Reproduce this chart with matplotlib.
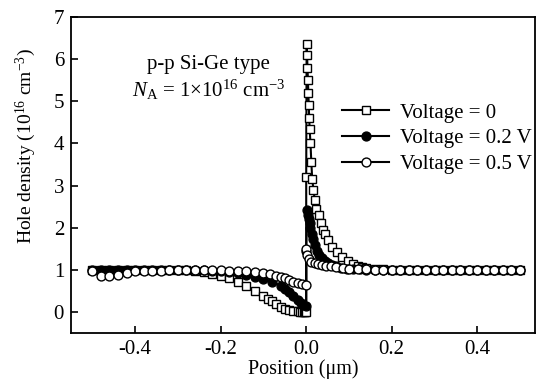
import matplotlib
matplotlib.use("Agg")
import matplotlib.pyplot as plt

plt.rcParams['font.family'] = ['Liberation Serif', 'DejaVu Serif']
plt.rcParams['mathtext.fontset'] = 'custom'
plt.rcParams['mathtext.rm'] = 'Liberation Serif'
plt.rcParams['mathtext.it'] = 'Liberation Serif:italic'

# far-field grid points (um)
far_left_x = [-0.50, -0.48, -0.46, -0.44, -0.42, -0.40, -0.38, -0.36, -0.34, -0.32, -0.30]
far_right_x = [0.14, 0.16, 0.18, 0.20, 0.22, 0.24, 0.26, 0.28, 0.30, 0.32, 0.34, 0.36,
               0.38, 0.40, 0.42, 0.44, 0.46, 0.48, 0.50]

# Voltage = 0
v0_x = far_left_x + [-0.28, -0.26, -0.24, -0.22, -0.20, -0.18, -0.16, -0.14, -0.12, -0.10,
                     -0.09, -0.08, -0.07, -0.06, -0.05, -0.04, -0.03, -0.02, -0.015, -0.01,
                     -0.006, -0.003, 0.0, 0.0,
                     0.001, 0.002, 0.003, 0.004, 0.005, 0.006, 0.007, 0.008, 0.010, 0.012,
                     0.014, 0.017, 0.020, 0.024, 0.029, 0.034, 0.039, 0.045, 0.052, 0.061,
                     0.072, 0.084, 0.097, 0.11, 0.12, 0.13] + far_right_x
v0_y = [1.0] * 11 + [0.99, 0.97, 0.94, 0.90, 0.85, 0.80, 0.72, 0.62, 0.50, 0.38,
                     0.31, 0.25, 0.18, 0.12, 0.08, 0.05, 0.03, 0.02, 0.01, 0.0,
                     0.0, 0.0, 0.0, 3.2,
                     6.35, 6.1, 5.8, 5.5, 5.2, 4.9, 4.6, 4.35, 4.0, 3.55,
                     3.15, 2.9, 2.65, 2.45, 2.3, 2.1, 1.95, 1.85, 1.7, 1.55,
                     1.42, 1.3, 1.2, 1.13, 1.10, 1.07] + [1.04, 1.02, 1.01] + [1.0] * 16

# Voltage = 0.2 V
v2_x = far_left_x + [-0.28, -0.26, -0.24, -0.22, -0.20, -0.18, -0.16, -0.14, -0.12, -0.10,
                     -0.08, -0.06, -0.05, -0.04, -0.03, -0.02, -0.013, -0.007, 0.0, 0.0,
                     0.002, 0.004, 0.006, 0.008, 0.010, 0.013, 0.016, 0.020, 0.025, 0.030,
                     0.036, 0.043, 0.051, 0.060, 0.070, 0.082, 0.095, 0.11, 0.125] + far_right_x
v2_y = [1.0] * 11 + [1.0, 1.0, 0.99, 0.98, 0.97, 0.95, 0.92, 0.88, 0.83, 0.78,
                     0.72, 0.62, 0.55, 0.47, 0.37, 0.28, 0.21, 0.16, 0.13, 1.45,
                     2.42, 2.3, 2.2, 2.1, 2.0, 1.85, 1.72, 1.58, 1.45, 1.36,
                     1.28, 1.21, 1.15, 1.11, 1.08, 1.05, 1.03, 1.02, 1.01] + [1.0] * 19

# Voltage = 0.5 V
v5_x = [-0.50, -0.48, -0.46, -0.44, -0.42, -0.40, -0.38, -0.36, -0.34, -0.32, -0.30,
        -0.28, -0.26, -0.24, -0.22, -0.20, -0.18, -0.16, -0.14, -0.12, -0.10,
        -0.085, -0.07, -0.06, -0.05, -0.04, -0.03, -0.02, -0.01, 0.0, 0.0,
        0.002, 0.006, 0.012, 0.020, 0.028, 0.036, 0.046, 0.058, 0.07, 0.085,
        0.10, 0.12] + far_right_x
v5_y = [0.96, 0.86, 0.86, 0.88, 0.93, 0.96, 0.97, 0.98, 0.98, 0.99, 0.99,
        0.99, 0.99, 0.99, 0.99, 0.99, 0.98, 0.97, 0.96, 0.94, 0.92,
        0.90, 0.86, 0.83, 0.80, 0.76, 0.71, 0.68, 0.66, 0.65, 1.5,
        1.35, 1.25, 1.19, 1.16, 1.14, 1.12, 1.10, 1.08, 1.06, 1.04,
        1.03, 1.02] + [1.01, 1.0, 1.0] + [1.0] * 16

fig = plt.figure(figsize=(5.41, 3.87), dpi=100)
ax = fig.add_axes([71 / 541, 1 - 333 / 387, (535 - 71) / 541, (333 - 17) / 387])

ms = 6.4
ax.plot(v0_x, v0_y, color='black', lw=1.5, marker='s', ms=ms, mfc='white', mec='black',
        mew=1.0, label='Voltage = 0')
ax.plot(v2_x, v2_y, color='black', lw=1.5, marker='o', ms=ms, mfc='black', mec='black',
        mew=1.0, label='Voltage = 0.2 V')
ax.plot(v5_x, v5_y, color='black', lw=1.5, marker='o', ms=ms, mfc='white', mec='black',
        mew=1.0, label='Voltage = 0.5 V')

ax.set_xlim(-0.55, 0.535)
ax.set_ylim(-0.5, 7)
ax.set_xticks([-0.4, -0.2, 0.0, 0.2, 0.4])
ax.set_xticklabels(['-0.4', '-0.2', '0.0', '0.2', '0.4'])
ax.set_yticks([0, 1, 2, 3, 4, 5, 6, 7])
ax.tick_params(direction='in', length=5, width=1.2, labelsize=15, top=False, right=False,
               pad=5)
for s in ax.spines.values():
    s.set_linewidth(1.3)

ax.set_xlabel('Position (μm)', fontsize=14.5, labelpad=0)
ax.set_ylabel('Hole density (10$^{16}$ cm$^{-3}$)', fontsize=14)
ax.yaxis.set_label_coords(-0.072, 0.59)

ax.text(-0.228, 5.88, 'p-p Si-Ge type', fontsize=15, ha='center', va='center')
ax.text(-0.228, 5.27, '$\\mathit{N}_\\mathrm{A}$ = 1×10$^{16}$ cm$^{-3}$', fontsize=15,
        ha='center', va='center')

ax.legend(loc='center left', bbox_to_anchor=(0.585, 0.615), frameon=False, fontsize=15,
          handlelength=2.25, handletextpad=0.5, labelspacing=0.3, borderpad=0.0,
          borderaxespad=0.0)

fig.savefig('out.png', dpi=100)
